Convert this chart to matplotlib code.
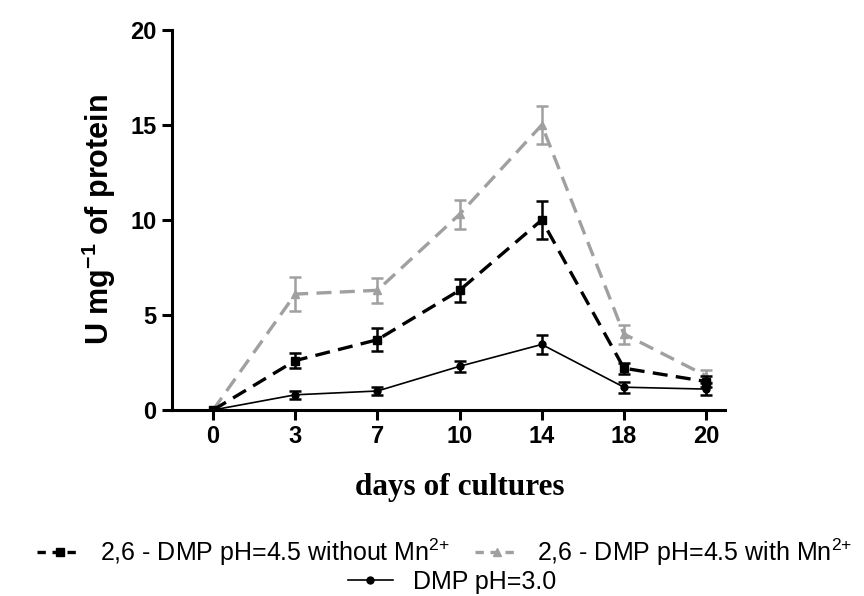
import matplotlib
matplotlib.use("Agg")
import matplotlib.pyplot as plt
from matplotlib.lines import Line2D
import numpy as np

days = ["0", "3", "7", "10", "14", "18", "20"]
without_mn = [0, 2.6, 3.7, 6.3, 10.0, 2.2, 1.5]
without_mn_err = [0, 0.4, 0.6, 0.6, 1.0, 0.3, 0.3]
with_mn = [0, 6.1, 6.3, 10.3, 15.0, 4.0, 1.8]
with_mn_err = [0, 0.9, 0.65, 0.75, 1.0, 0.5, 0.3]
dmp3 = [0, 0.8, 1.0, 2.3, 3.45, 1.2, 1.1]
dmp3_err = [0, 0.2, 0.2, 0.3, 0.5, 0.3, 0.3]

labels = ["2,6 - DMP pH=4.5 without Mn$^{2{+}}$",
          "2,6 - DMP pH=4.5 with Mn$^{2{+}}$",
          "DMP pH=3.0"]

plt.rcParams['font.family'] = ['Liberation Sans', 'DejaVu Sans']
plt.rcParams['mathtext.fontset'] = 'custom'
plt.rcParams['mathtext.rm'] = 'Liberation Sans'
plt.rcParams['mathtext.it'] = 'Liberation Sans:italic'
plt.rcParams['mathtext.bf'] = 'Liberation Sans:bold'

fig = plt.figure(figsize=(8.64, 5.96), dpi=100)
ax = fig.add_axes([172/864, 1-410/596, (725-172)/864, 380/596])

x = np.arange(len(days))
gray = "#a0a0a0"
dash = (0, (4.5, 2.5))

ax.errorbar(x, dmp3, yerr=dmp3_err, color="black", lw=1.2, marker="o",
            ms=5, capsize=4, capthick=1.8, elinewidth=1.8, zorder=3)
ax.errorbar(x, without_mn, yerr=without_mn_err, color="black", lw=2.4,
            ls=dash, marker="s", ms=6, capsize=4, capthick=1.8,
            elinewidth=1.8, zorder=4)
ax.errorbar(x, with_mn, yerr=with_mn_err, color=gray, lw=2.4,
            ls=dash, marker="^", ms=6, capsize=4, capthick=1.8,
            elinewidth=1.8, zorder=2)

ax.set_xlim(-0.5, 6.23)
ax.set_ylim(0, 20)
ax.set_yticks([0, 5, 10, 15, 20])
ax.set_xticks(x)
ax.set_xticklabels(days)
for s in ["top", "right"]:
    ax.spines[s].set_visible(False)
for s in ["left", "bottom"]:
    ax.spines[s].set_linewidth(2.2)
ax.tick_params(axis="both", direction="out", length=7, width=2.2,
               labelsize=17, pad=4)
for lab in ax.get_xticklabels() + ax.get_yticklabels():
    lab.set_fontweight("bold")

ax.set_ylabel("U mg$^{\\mathbf{-1}}$ of protein", fontsize=22, fontweight="bold")
ax.yaxis.set_label_coords(-0.098, 0.5)
ax.set_xlabel("days of cultures", fontsize=22.5, fontweight="bold",
              family=["Liberation Serif", "DejaVu Serif"])
ax.xaxis.set_label_coords((460-172)/(725-172), -0.165)

h1 = Line2D([], [], color="black", lw=2.4, ls=(0, (2.5, 2.0)), marker="s", ms=6)
h2 = Line2D([], [], color=gray, lw=2.4, ls=(0, (2.5, 2.0)), marker="^", ms=6)
h3 = Line2D([], [], color="black", lw=1.2, marker="o", ms=5)

leg1 = fig.legend([h1, h2], labels[:2], loc="center", ncol=2,
                  bbox_to_anchor=(0.515, 1-552/596), frameon=False,
                  fontsize=18, handlelength=1.8, columnspacing=1.0,
                  handletextpad=0.7, numpoints=1, borderpad=0, borderaxespad=0)
leg2 = fig.legend([h3], labels[2:], loc="center",
                  bbox_to_anchor=(452/864, 1-582/596), frameon=False,
                  fontsize=18, handlelength=1.8, handletextpad=0.8,
                  numpoints=1, borderpad=0, borderaxespad=0)

fig.savefig("out.png", dpi=100)
